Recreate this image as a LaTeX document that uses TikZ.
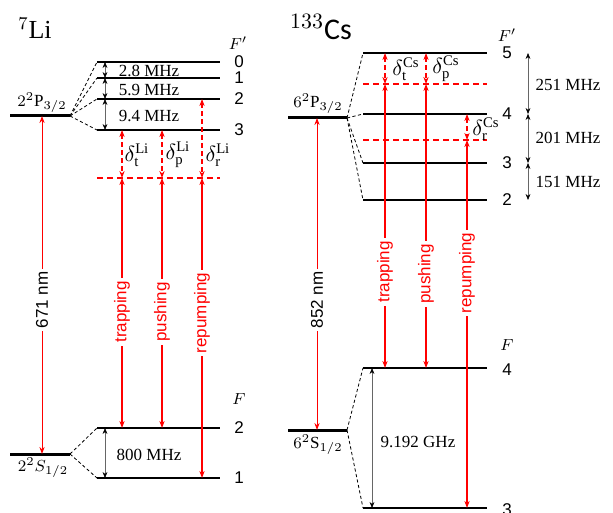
\documentclass[tikz,border=0pt]{standalone}
\usepackage{fontspec}
\setmainfont{Liberation Serif}
\setsansfont{Liberation Sans}
\newfontfamily\csfont{Carlito}
\usetikzlibrary{arrows.meta}

\begin{document}
\begin{tikzpicture}[x=0.5pt,y=-0.5pt,
  fine/.style={line width=1.5pt},
  hfs/.style={line width=0.6pt},
  link/.style={line width=0.4pt,dash pattern=on 1.6pt off 1.2pt},
  split/.style={{Stealth[length=3pt,width=2.4pt,color=black]}-{Stealth[length=3pt,width=2.4pt,color=black]},line width=0.3pt,black!60},
  laser/.style={{Stealth[length=3.5pt,width=2.6pt]}-{Stealth[length=3.5pt,width=2.6pt]},red,line width=0.75pt},
  optic/.style={laser,line width=0.5pt},
  detune/.style={laser,dash pattern=on 2.5pt off 1.5pt},
  shifted/.style={draw=red,line width=0.6pt,dash pattern=on 3pt off 2pt},
  beamtext/.style={rotate=90,fill=white,inner sep=1.5pt,font=\sffamily\fontsize{8.5}{10}\selectfont},
  num/.style={font=\sffamily\fontsize{8.5}{10}\selectfont},
  freq/.style={font=\fontsize{8.5}{10}\selectfont},
  detlabel/.style={font=\fontsize{10.5}{12}\selectfont,inner sep=0pt}]
  \useasboundingbox (0,0) rectangle (613,512);

  % ---- 7Li ----
  \node[font=\fontsize{13}{15}\selectfont] (LiTitle) at (35,28) {$^{7}$Li};
  \coordinate (LiP) at (70,116);
  \coordinate (LiS) at (70,454);
  \draw[fine] (10,116) -- (LiP);
  \draw[fine] (10,454) -- (LiS);
  \node[freq] (LiPlab) at (42,103) {$2^2\mathrm{P}_{3/2}$};
  \node[freq] (LiSlab) at (43,468) {$2^2S_{1/2}$};
  \node[freq] (LiFp) at (238,43) {$F'$};
  \foreach \f/\y in {0/62,1/78,2/99,3/130} {
    \draw[hfs] (97,\y) coordinate (LiE\f) -- (220,\y);
    \draw[link] (LiP) -- (LiE\f);
    \node[num] (LiN\f) at (239,\y) {\f};
  }
  \node[freq] (LiF) at (239,399) {$F$};
  \foreach \f/\y in {2/428,1/478} {
    \draw[hfs] (97,\y) coordinate (LiG\f) -- (220,\y);
    \draw[link] (LiS) -- (LiG\f);
    \node[num] (LiM\f) at (239,\y) {\f};
  }
  \draw[split] (105,62) -- (105,78);
  \draw[split] (105,78) -- (105,99);
  \draw[split] (105,99) -- (105,130);
  \draw[split] (105,428) -- (105,478);
  \node[freq] at (149,71) {2.8 MHz};
  \node[freq] at (149,90) {5.9 MHz};
  \node[freq] at (149,116) {9.4 MHz};
  \node[freq] at (149,455) {800 MHz};

  \draw[shifted] (97,178) -- (220,178);
  \coordinate (LiTu) at (122,130);
  \coordinate (LiTm) at (122,178);
  \coordinate (LiTd) at (122,428);
  \coordinate (LiPu) at (162,130);
  \coordinate (LiPm) at (162,178);
  \coordinate (LiPd) at (162,428);
  \coordinate (LiRu) at (202,99);
  \coordinate (LiRm) at (202,178);
  \coordinate (LiRd) at (202,478);
  \draw[detune] (LiTu) -- (LiTm);
  \draw[detune] (LiPu) -- (LiPm);
  \draw[detune] (LiRu) -- (LiRm);
  \draw[laser] (LiTm) -- (LiTd);
  \draw[laser] (LiPm) -- (LiPd);
  \draw[laser] (LiRm) -- (LiRd);
  \draw[optic] (42,116) -- (42,454);
  \node[beamtext] at (42,300) {671 nm};
  \node[beamtext,text=red] at (122,312) {trapping};
  \node[beamtext,text=red] at (162,312) {pushing};
  \node[beamtext,text=red] at (202,313) {repumping};
  \node[detlabel] at (137,155) {$\delta_{\mathrm{t}}^{\mathrm{Li}}$};
  \node[detlabel] at (178,155) {$\delta_{\mathrm{p}}^{\mathrm{Li}}$};
  \node[detlabel] at (218,155) {$\delta_{\mathrm{r}}^{\mathrm{Li}}$};

  % ---- 133Cs ----
  \node[font=\fontsize{15}{17}\selectfont] (CsTitle) at (321,27) {\csfont$^{133}$Cs};
  \coordinate (CsP) at (347,118);
  \coordinate (CsS) at (347,430);
  \draw[fine] (288,118) -- (CsP);
  \draw[fine] (288,430) -- (CsS);
  \node[freq] (CsPlab) at (318,104) {$6^2\mathrm{P}_{3/2}$};
  \node[freq] (CsSlab) at (318,445) {$6^2\mathrm{S}_{1/2}$};
  \node[freq] (CsFp) at (507,35) {$F'$};
  \foreach \f/\y in {5/53,4/114,3/163,2/200} {
    \draw[hfs] (363,\y) coordinate (CsE\f) -- (487,\y);
    \draw[link] (CsP) -- (CsE\f);
    \node[num] (CsN\f) at (507,\y) {\f};
  }
  \node[freq] (CsF) at (507,345) {$F$};
  \foreach \f/\y in {4/368,3/508} {
    \draw[hfs] (363,\y) coordinate (CsG\f) -- (487,\y);
    \draw[link] (CsS) -- (CsG\f);
    \node[num] (CsM\f) at (507,\y+2) {\f};
  }
  \draw[split] (528,53) -- (528,114);
  \draw[split] (528,114) -- (528,163);
  \draw[split] (528,163) -- (528,200);
  \draw[split] (372,368) -- (372,508);
  \node[freq] at (568,85) {251 MHz};
  \node[freq] at (568,138) {201 MHz};
  \node[freq] at (568,182) {151 MHz};
  \node[freq] at (418,442) {9.192 GHz};

  \draw[shifted] (363,84) -- (487,84);
  \draw[shifted] (363,140) -- (487,140);
  \coordinate (CsTu) at (385,53);
  \coordinate (CsTm) at (385,84);
  \coordinate (CsTd) at (385,368);
  \coordinate (CsPu) at (426,53);
  \coordinate (CsPm) at (426,84);
  \coordinate (CsPd) at (426,368);
  \coordinate (CsRu) at (467,114);
  \coordinate (CsRm) at (467,140);
  \coordinate (CsRd) at (467,508);
  \draw[detune] (CsTu) -- (CsTm);
  \draw[detune] (CsPu) -- (CsPm);
  \draw[detune] (CsRu) -- (CsRm);
  \draw[laser] (CsTm) -- (CsTd);
  \draw[laser] (CsPm) -- (CsPd);
  \draw[laser] (CsRm) -- (CsRd);
  \draw[optic] (317,118) -- (317,430);
  \node[beamtext] at (317,300) {852 nm};
  \node[beamtext,text=red] at (385,272) {trapping};
  \node[beamtext,text=red] at (426,274) {pushing};
  \node[beamtext,text=red] at (467,273) {repumping};
  \node[detlabel] at (406,69) {$\delta_{\mathrm{t}}^{\mathrm{Cs}}$};
  \node[detlabel] at (446,69) {$\delta_{\mathrm{p}}^{\mathrm{Cs}}$};
  \node[detlabel] at (486,129) {$\delta_{\mathrm{r}}^{\mathrm{Cs}}$};
\end{tikzpicture}
\end{document}
